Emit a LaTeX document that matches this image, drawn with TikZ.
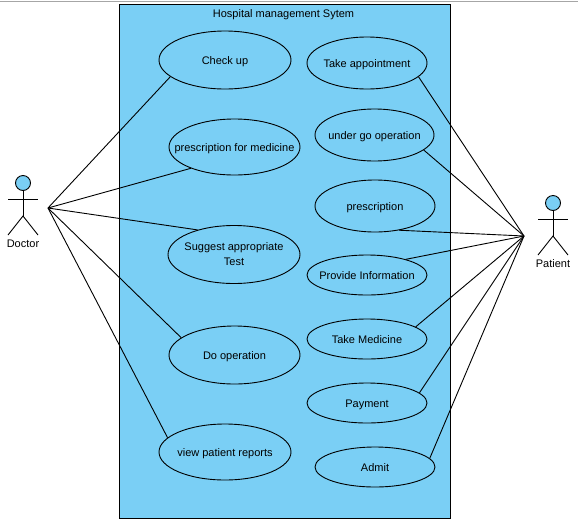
\documentclass[tikz,border=0pt]{standalone}
\usepackage{fontspec}
\setmainfont{Liberation Sans}
\usetikzlibrary{shapes.geometric, positioning}

\definecolor{umlblue}{RGB}{122,207,245}
\tikzset{
    usecase/.style={draw, ellipse, line width=0.9pt, inner xsep=-40pt, inner ysep=0pt, align=center, text height=9pt, text depth=0pt, font=\fontsize{11}{15}\selectfont},
    actorlabel/.style={inner sep=0pt, font=\fontsize{11}{13}\selectfont},
    assoc/.style={draw, line width=0.9pt}
}
\newcommand{\stickman}[3]{%
    \draw[line width=0.9pt, fill=umlblue] (#1, #2) circle (7.5);
    \draw[line width=0.9pt] (#1, #2+7.5) -- (#1, #2+33);
    \draw[line width=0.9pt] (#1-15, #2+16.5) -- (#1+15, #2+16.5);
    \draw[line width=0.9pt] (#1-15, #2+52) -- (#1, #2+33) -- (#1+15, #2+52);
    \node[actorlabel] (#3) at (#1, #2+60.5) {#3};
}

\begin{document}
\begin{tikzpicture}[x=1pt, y=-1pt]
    \useasboundingbox (0,0) rectangle (578,523);
    \fill[white] (0,0) rectangle (578,523);
    \draw[line width=1pt, black!35] (0,1) -- (578,1);

    % Sistema
    \draw[line width=0.9pt, fill=umlblue] (119.5,4.5) rectangle (450.5,518.5);
    \node[inner sep=0pt, text height=9pt, text depth=0pt, font=\fontsize{11}{13}\selectfont] (system) at (283.5,12.5) {Hospital management Sytem};

    % Casos de uso del doctor
    \node[usecase, minimum width=132, minimum height=58] (checkup) at (225,60) {Check up};
    \node[usecase, minimum width=131, minimum height=56] (medicine) at (234.5,147) {prescription for medicine};
    \node[usecase, minimum width=132, minimum height=58, text height=, text depth=] (suggest) at (234,254.5) {Suggest appropriate\\Test};
    \node[usecase, minimum width=131, minimum height=58] (operation) at (234.5,355) {Do operation};
    \node[usecase, minimum width=132, minimum height=56] (reports) at (225,452) {view patient reports};

    % Casos de uso del paciente
    \node[usecase, minimum width=120, minimum height=52] (appointment) at (367,63) {Take appointment};
    \node[usecase, minimum width=119, minimum height=52] (undergo) at (374.5,135) {under go operation};
    \node[usecase, minimum width=120, minimum height=52] (prescription) at (375,206) {prescription};
    \node[usecase, minimum width=120, minimum height=40] (information) at (367,275) {Provide Information};
    \node[usecase, minimum width=120, minimum height=40] (takemedicine) at (367,339) {Take Medicine};
    \node[usecase, minimum width=120, minimum height=40] (payment) at (367,403) {Payment};
    \node[usecase, minimum width=120, minimum height=40] (admit) at (375,467) {Admit};

    % Actores
    \stickman{23}{183}{Doctor}
    \stickman{553}{203}{Patient}
    \coordinate (doctorhub) at (48,208);
    \coordinate (patienthub) at (524,236);

    % Asociaciones
    \draw[assoc] (doctorhub) -- (checkup.197);
    \draw[assoc] (doctorhub) -- (medicine.206);
    \draw[assoc] (doctorhub) -- (suggest.146);
    \draw[assoc] (doctorhub) -- (operation.162);
    \draw[assoc] (doctorhub) -- (reports.166);
    \draw[assoc] (patienthub) -- (appointment.-15);
    \draw[assoc] (patienthub) -- (undergo.-17);
    \draw[assoc] (patienthub) -- (prescription.-45);
    \draw[assoc] (patienthub) -- (information.22);
    \draw[assoc] (patienthub) -- (takemedicine.14);
    \draw[assoc] (patienthub) -- (payment.11);
    \draw[assoc] (patienthub) -- (admit.9);
\end{tikzpicture}
\end{document}
